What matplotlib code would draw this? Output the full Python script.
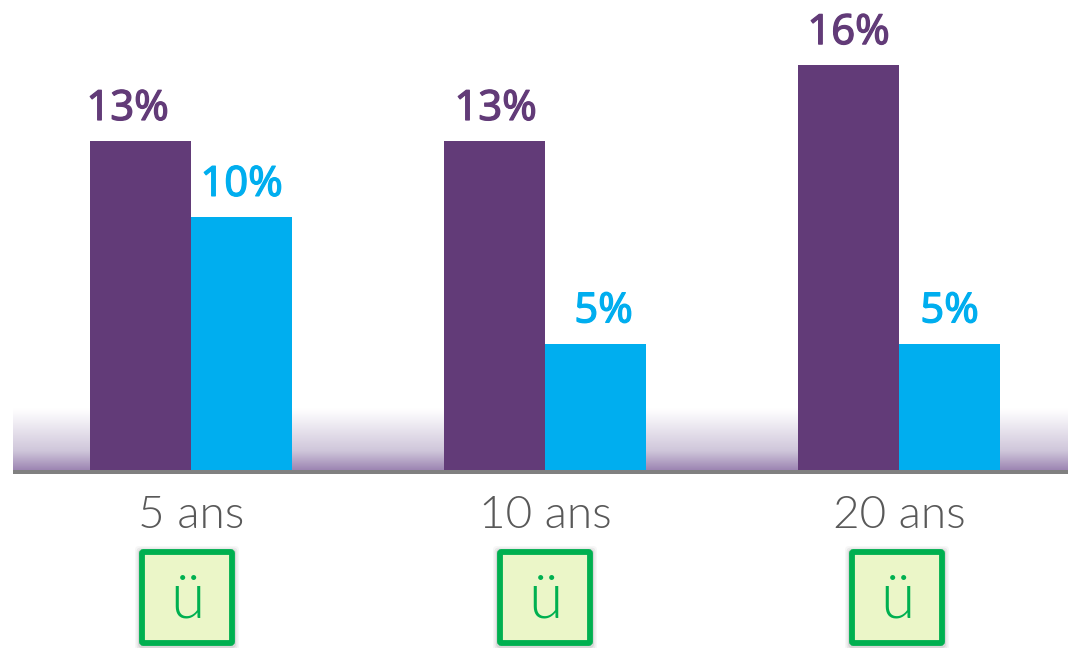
import matplotlib
matplotlib.use('Agg')
import matplotlib.pyplot as plt
import matplotlib.patheffects as pe
import numpy as np
from matplotlib.colors import LinearSegmentedColormap
from matplotlib.patches import FancyBboxPatch

categories = ['5 ans', '10 ans', '20 ans']
purple_values = [13, 13, 16]
blue_values = [10, 5, 5]
check_marks = ['ü', 'ü', 'ü']
# hand nudges of the value labels, in pixels
purple_nudge = [-13, 1, 0]
blue_nudge = [0, 8, 0]

PURPLE = '#623b78'
BLUE = '#00aeef'
GREEN = '#00b050'
W, H = 1068, 648
BASE = 470
PER_PCT = 25.3
GROUP_STEP = 354
BAR_W = 101 / GROUP_STEP


def draw_box(ax, cx, mark):
    # soft shadow first, then the box itself
    for grow, alpha in [(8, 0.03), (5, 0.05), (2, 0.08)]:
        ax.add_patch(FancyBboxPatch((cx - 48 - grow / 2, 549 - grow / 2 + 1), 96 + grow, 97 + grow,
                                    boxstyle='round,pad=0,rounding_size=4',
                                    fc='black', ec='none', alpha=alpha))
    ax.add_patch(FancyBboxPatch((cx - 45, 552), 90, 91, boxstyle='round,pad=0,rounding_size=1.5',
                                fc='#ebf6c8', ec=GREEN, lw=4.2))
    ax.text(cx, 618, mark, color=GREEN, fontsize=45, family='Lato', weight=300,
            ha='center', va='baseline')


def value_label(ax, x, y, nudge, color):
    ax.annotate(f'{y}%', (x, y), xytext=(nudge * 0.72, 8),
                textcoords='offset points', ha='center', va='bottom', color=color,
                fontsize=30, family='Noto Sans',
                path_effects=[pe.withStroke(linewidth=0.9, foreground=color)])


fig = plt.figure(figsize=(W / 100, H / 100), dpi=100)

# chart axes: left edge at x=13, bottom on the baseline
ax = fig.add_axes([13 / W, 1 - BASE / H, (W - 13) / W, BASE / H])
xlim = (-(191 - 13) / GROUP_STEP, (W - 191) / GROUP_STEP)
ylim = (0, BASE / PER_PCT)
ax.axis('off')

cmap = LinearSegmentedColormap.from_list('floor', ['#ffffff', '#e6e1ec', '#cfc6da', '#9d86b3'])
grad = np.linspace(0, 1, 128).reshape(-1, 1) ** 1.1
ax.imshow(grad, cmap=cmap, aspect='auto', origin='upper', zorder=1,
          extent=[xlim[0], xlim[1], 0, 62 / PER_PCT])
ax.set_xlim(xlim)
ax.set_ylim(ylim)

x = np.arange(len(categories))
ax.bar(x - BAR_W / 2, purple_values, BAR_W, color=PURPLE, zorder=2)
ax.bar(x + BAR_W / 2, blue_values, BAR_W, color=BLUE, zorder=2)

for i in range(len(categories)):
    value_label(ax, x[i] - BAR_W / 2, purple_values[i], purple_nudge[i], PURPLE)
    value_label(ax, x[i] + BAR_W / 2, blue_values[i], blue_nudge[i], BLUE)

# overlay in pixel coordinates for baseline, labels and boxes
over = fig.add_axes([0, 0, 1, 1], facecolor='none')
over.set_xlim(0, W)
over.set_ylim(H, 0)
over.axis('off')
over.fill_between([13, W], 470, 473.5, color='#808080', lw=0)

centers = [191 + GROUP_STEP * i for i in range(len(categories))]
box_centers = [187, 545, 897]
for i, c in enumerate(categories):
    over.text(centers[i], 528, c, color='#595959', fontsize=33, family='Lato', weight=300,
              ha='center', va='baseline')
    draw_box(over, box_centers[i], check_marks[i])

fig.savefig('out.png', dpi=100)
